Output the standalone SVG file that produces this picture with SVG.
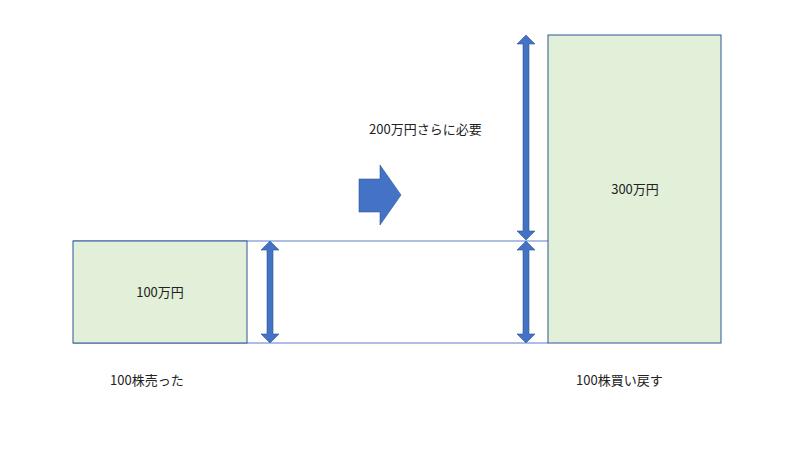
<svg xmlns="http://www.w3.org/2000/svg" width="800" height="450" viewBox="0 0 800 450">
<style>
.box{fill:#e2efd9;stroke:#2f5597;stroke-width:1}
.ln{stroke:#8faadc;stroke-width:1.5;fill:none}
.ar{fill:#4472c4;stroke:#2f5597;stroke-width:0.6}
text{font-family:"Noto Sans CJK JP","Liberation Sans",sans-serif;font-size:13px;fill:#222}
</style>
<g id="connectors">
<line class="ln" x1="73" y1="241" x2="548" y2="241"/>
<line class="ln" x1="73" y1="343" x2="548" y2="343"/>
<polygon class="ar" points="270,241 279,250 273,250 273,334 279,334 270,343 261,334 267,334 267,250 261,250"/>
<polygon class="ar" points="526,241 535,250 529,250 529,334 535,334 526,343 517,334 523,334 523,250 517,250"/>
<polygon class="ar" points="526,35 535,44 529,44 529,231 535,231 526,240 517,231 523,231 523,44 517,44"/>
<polygon class="ar" points="359,179 380,179 380,165 401,195 380,225 380,212 359,212"/>
</g>
<g id="left-box"><rect class="box" x="73" y="241" width="174" height="102"/><text x="160" y="297" text-anchor="middle">100万円</text></g>
<g id="right-box"><rect class="box" x="548" y="35" width="173" height="308"/><text x="635" y="194" text-anchor="middle">300万円</text></g>
<g id="labels">
<text x="369" y="134">200万円さらに必要</text>
<text x="110" y="385">100株売った</text>
<text x="576" y="385">100株買い戻す</text>
</g>
</svg>
